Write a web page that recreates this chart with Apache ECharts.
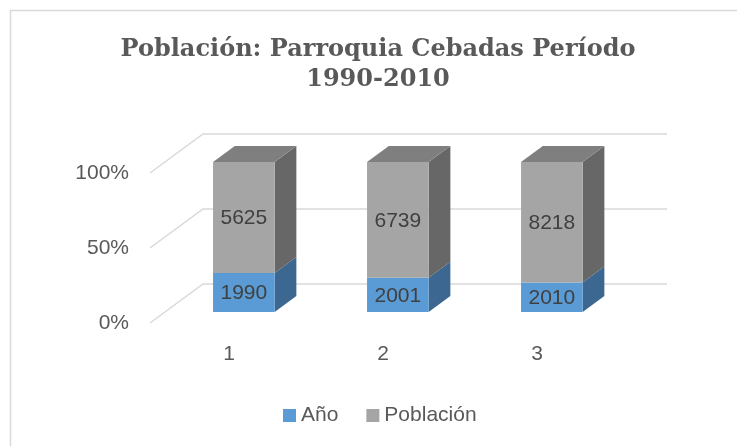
<!DOCTYPE html>
<html lang="es">
<head>
<meta charset="UTF-8">
<title>Población: Parroquia Cebadas</title>
<style>
  html, body { margin: 0; padding: 0; background: #fff; }
  #chart { width: 737px; height: 446px; }
</style>
</head>
<body>
<div id="chart"></div>
<script src="https://cdn.jsdelivr.net/npm/echarts@6/dist/echarts.min.js"></script>
<script>
// datos
var categories = ['1', '2', '3'];
var anio = [1990, 2001, 2010];
var poblacion = [5625, 6739, 8218];
var yTicks = [0, 50, 100];

var DEPTH = [53, -39];   // desplazamiento de la pared del fondo (px)
var FRONT = 0.28, BACK = 0.69;  // profundidad de las columnas
var labelFont = '"Liberation Sans", Arial, sans-serif';

// porcentajes apilados (100%)
var anioData = [], poblData = [];
for (var i = 0; i < categories.length; i++) {
  var total = anio[i] + poblacion[i];
  var p = anio[i] / total * 100;
  anioData.push([i, 0, p, anio[i]]);
  poblData.push([i, p, 100, poblacion[i]]);
}

function column(front, side, top, withTop) {
  return function (params, api) {
    var i = api.value(0);
    var lo = api.coord([i, api.value(1)]);
    var hi = api.coord([i, api.value(2)]);
    var band = api.size([1, 0])[0];
    var w = band * 0.4;
    var x0 = lo[0] - w / 2 + DEPTH[0] * FRONT;
    var x1 = x0 + w;
    var yb = lo[1] + DEPTH[1] * FRONT;
    var yt = hi[1] + DEPTH[1] * FRONT;
    var sx = DEPTH[0] * (BACK - FRONT), sy = DEPTH[1] * (BACK - FRONT);
    var kids = [
      { type: 'polygon', shape: { points: [[x1, yt], [x1 + sx, yt + sy], [x1 + sx, yb + sy], [x1, yb]] }, style: { fill: side } },
      { type: 'rect', shape: { x: x0, y: yt, width: w, height: yb - yt }, style: { fill: front } }
    ];
    if (withTop) {
      kids.push({ type: 'polygon', shape: { points: [[x0, yt], [x0 + sx, yt + sy], [x1 + sx, yt + sy], [x1, yt]] }, style: { fill: top } });
    }
    kids.push({
      type: 'text',
      style: {
        text: String(api.value(3)), x: (x0 + x1) / 2, y: (yt + yb) / 2 + 1,
        align: 'center', verticalAlign: 'middle',
        fontSize: 21, fontFamily: labelFont, fill: '#404040'
      }
    });
    return { type: 'group', children: kids };
  };
}

var chart = echarts.init(document.getElementById('chart'));

var option = {
  animation: false,
  backgroundColor: '#fff',
  graphic: [{
    type: 'rect', silent: true,
    shape: { x: 10.5, y: 10.5, width: 800, height: 500 },
    style: { fill: 'none', stroke: '#d9d9d9', lineWidth: 1.5 }
  }],
  title: {
    text: 'Población: Parroquia Cebadas Período\n1990-2010',
    left: 373, top: 30, textAlign: 'center',
    textStyle: {
      fontFamily: '"DejaVu Serif", serif', fontWeight: 'bold',
      fontSize: 24, lineHeight: 30, color: '#595959'
    }
  },
  legend: {
    data: ['Año', 'Población'],
    left: 278, top: 400,
    icon: 'rect', itemWidth: 13, itemHeight: 13, itemGap: 28,
    textStyle: { fontFamily: labelFont, fontSize: 21, color: '#595959' }
  },
  grid: { left: 152, top: 173, width: 462, height: 150 },
  xAxis: {
    type: 'category', data: categories,
    axisLine: { show: false }, axisTick: { show: false },
    axisLabel: { margin: 21, fontFamily: labelFont, fontSize: 21, color: '#595959' }
  },
  yAxis: {
    type: 'value', min: 0, max: 100, interval: 50,
    axisLine: { show: false }, axisTick: { show: false }, splitLine: { show: false },
    axisLabel: { margin: 23, formatter: '{value}%', fontFamily: labelFont, fontSize: 21, color: '#595959' }
  },
  series: [
    {
      name: 'grid3d', type: 'custom', silent: true, z: 1,
      data: yTicks.map(function (v) { return [0, v]; }),
      encode: { x: 0, y: 1 },
      renderItem: function (params, api) {
        var pt = api.coord([0, api.value(1)]);
        var band = api.size([1, 0])[0];
        var left = pt[0] - band / 2;
        var right = left + band * categories.length;
        return {
          type: 'polyline',
          shape: { points: [[left - 2, pt[1]], [left - 2 + DEPTH[0], pt[1] + DEPTH[1]], [right + DEPTH[0], pt[1] + DEPTH[1]]] },
          style: { stroke: '#d9d9d9', lineWidth: 1.5, fill: 'none' }
        };
      }
    },
    {
      name: 'Año', type: 'custom', z: 2,
      itemStyle: { color: '#5b9bd5' },
      data: anioData, encode: { x: 0, y: [1, 2] },
      renderItem: column('#5b9bd5', '#3b6790', '#4a7fb0', false)
    },
    {
      name: 'Población', type: 'custom', z: 3,
      itemStyle: { color: '#a5a5a5' },
      data: poblData, encode: { x: 0, y: [1, 2] },
      renderItem: column('#a5a5a5', '#676767', '#7f7f7f', true)
    }
  ]
};

chart.setOption(option);
</script>
</body>
</html>
